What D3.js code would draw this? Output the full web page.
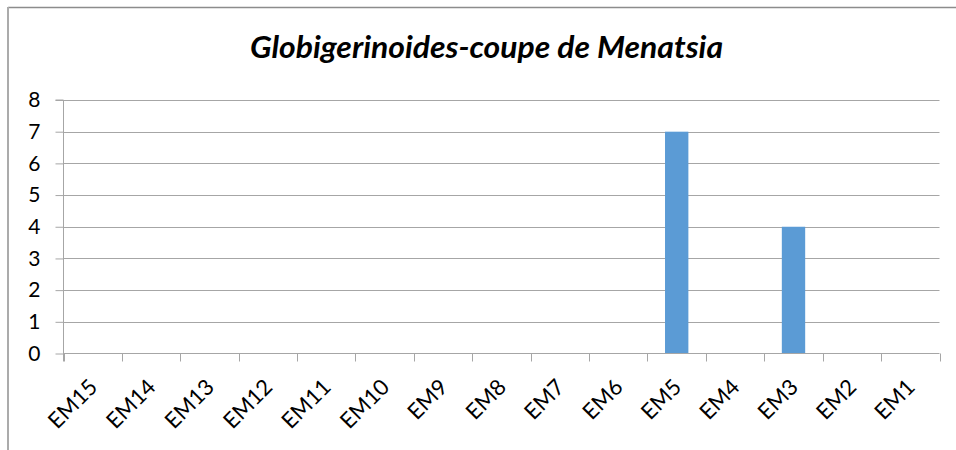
<!DOCTYPE html>
<html>
<head>
<meta charset="utf-8">
<script src="https://cdn.jsdelivr.net/npm/d3@7"></script>
<style>
  html, body { margin: 0; padding: 0; background: #fff; }
  svg { display: block; }
  text { font-family: Lato, "Noto Sans", sans-serif; fill: #000; }
</style>
</head>
<body>
<svg id="chart" width="956" height="450"></svg>
<script>
// Sample labels (top of section on the left) and Globigerinoides counts
const samples = ["EM15", "EM14", "EM13", "EM12", "EM11", "EM10", "EM9", "EM8",
                 "EM7", "EM6", "EM5", "EM4", "EM3", "EM2", "EM1"];
const counts = [0, 0, 0, 0, 0, 0, 0, 0, 0, 0, 7, 0, 4, 0, 0];
const yTicks = [0, 1, 2, 3, 4, 5, 6, 7, 8];
const chartTitle = "Globigerinoides-coupe de Menatsia";

const svg = d3.select("#chart");
const W = 956, H = 450;
const plot = { left: 63.5, right: 939.5, top: 100, bottom: 353.5 };

// Chart frame
svg.append("line").attr("x1", 8).attr("x2", W).attr("y1", 7.5).attr("y2", 7.5)
  .attr("stroke", "#8c8c8c").attr("stroke-width", 1.5);
svg.append("line").attr("x1", 8).attr("x2", 8).attr("y1", 7).attr("y2", H)
  .attr("stroke", "#ababab").attr("stroke-width", 2);

const x = d3.scaleBand().domain(samples)
  .range([plot.left, plot.right]).paddingInner(0.6).paddingOuter(0.3);
const y = d3.scaleLinear().domain([0, 8]).range([plot.bottom, plot.top]);

// Horizontal gridlines
svg.append("g").selectAll("line").data(yTicks.filter(d => d > 0)).join("line")
  .attr("x1", plot.left).attr("x2", plot.right)
  .attr("y1", d => Math.round(y(d)) + 0.5).attr("y2", d => Math.round(y(d)) + 0.5)
  .attr("stroke", "#a6a6a6").attr("stroke-width", 1);

// Bars
svg.append("g").selectAll("rect").data(counts.map((v, i) => ({ s: samples[i], v })))
  .join("rect")
  .attr("x", d => x(d.s))
  .attr("width", x.bandwidth())
  .attr("y", d => y(d.v))
  .attr("height", d => y(0) - y(d.v))
  .attr("fill", "#5b9bd5");

// Y axis
const yAxis = d3.axisLeft(y).tickValues(yTicks).tickSize(8).tickPadding(15);
const gy = svg.append("g").attr("transform", `translate(${plot.left},0)`).call(yAxis);
gy.select(".domain").attr("stroke", "#a6a6a6").attr("d", `M-8,${plot.top}H0V${plot.bottom + 8}`);
gy.selectAll(".tick line").attr("stroke", "#a6a6a6");
gy.selectAll(".tick text").attr("font-size", 21).attr("font-family", "Lato, sans-serif")
  .attr("fill", "#000");

// X axis with category boundary ticks
const xb = d3.scaleLinear().domain([0, samples.length]).range([plot.left, plot.right]);
const gx = svg.append("g");
gx.append("line").attr("x1", plot.left).attr("x2", plot.right)
  .attr("y1", plot.bottom).attr("y2", plot.bottom).attr("stroke", "#a6a6a6");
gx.selectAll("line.tk").data(d3.range(samples.length + 1)).join("line")
  .attr("class", "tk")
  .attr("x1", d => Math.round(xb(d)) + 0.5).attr("x2", d => Math.round(xb(d)) + 0.5)
  .attr("y1", plot.bottom).attr("y2", plot.bottom + 8)
  .attr("stroke", "#a6a6a6");

// Rotated category labels
gx.selectAll("text").data(samples).join("text")
  .attr("transform", d => `translate(${x(d) + x.bandwidth() / 2 + 6},${plot.bottom + 35}) rotate(-45)`)
  .attr("text-anchor", "end")
  .attr("font-size", 22)
  .text(d => d);

// Title
svg.append("text")
  .attr("x", 486.5).attr("y", 58)
  .attr("text-anchor", "middle")
  .attr("font-size", 30)
  .attr("font-weight", "bold")
  .attr("font-style", "italic")
  .attr("textLength", 473)
  .attr("lengthAdjust", "spacingAndGlyphs")
  .text(chartTitle);
</script>
</body>
</html>
